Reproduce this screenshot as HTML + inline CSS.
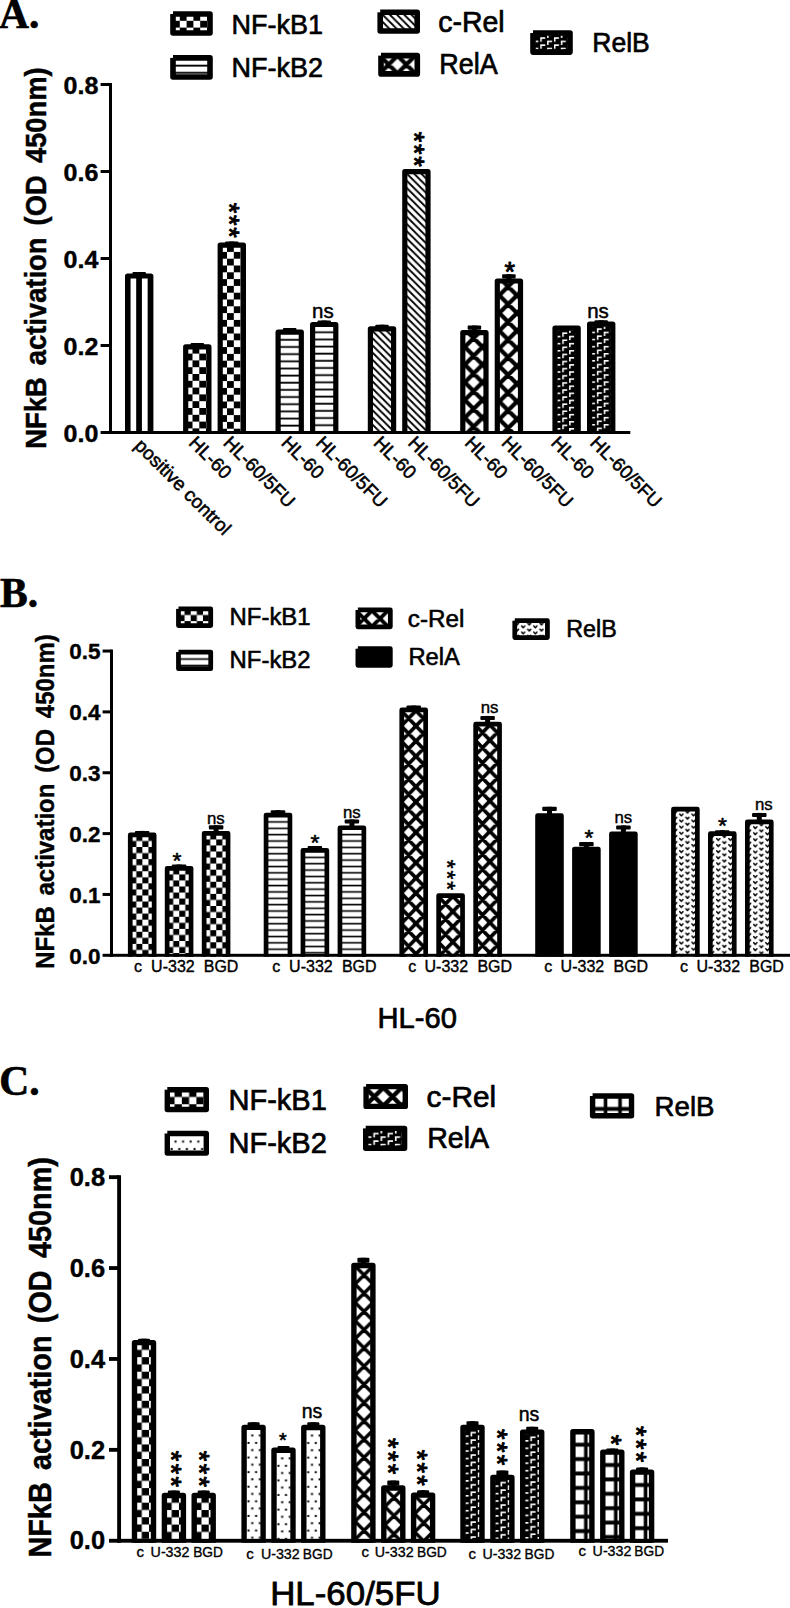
<!DOCTYPE html>
<html lang="en">
<head>
<meta charset="utf-8">
<title>NFkB activation in HL-60 and HL-60/5FU cells</title>
<style>
  html, body { margin: 0; padding: 0; background: #fff; }
  body { width: 790px; height: 1608px; overflow: hidden; }
  svg { display: block; }
  text { fill: #000; }
</style>
</head>
<body>
<svg width="790" height="1608" viewBox="0 0 790 1608">
<rect x="0" y="0" width="790" height="1608" fill="#fff"/>
<defs>
<pattern id="p-vert" patternUnits="userSpaceOnUse" x="0" y="0" width="11.45" height="10"><rect x="0" y="0" width="11.45" height="10" fill="#fff"/><rect x="-2.85" y="0" width="5.7" height="10" fill="#000"/><rect x="8.6" y="0" width="5.7" height="10" fill="#000"/></pattern>
<pattern id="p-check" patternUnits="userSpaceOnUse" x="0" y="0" width="13.6" height="13.6"><rect x="0" y="0" width="13.6" height="13.6" fill="#000"/><rect x="0" y="0" width="6.8" height="6.8" fill="#fff"/><rect x="6.8" y="6.8" width="6.8" height="6.8" fill="#fff"/></pattern>
<pattern id="p-horiz" patternUnits="userSpaceOnUse" x="0" y="0" width="10" height="7.15"><rect x="0" y="0" width="10" height="7.15" fill="#fff"/><rect x="0" y="-0.3" width="10" height="1.8" fill="#000"/><rect x="0" y="6.85" width="10" height="1.8" fill="#000"/></pattern>
<pattern id="p-diag" patternUnits="userSpaceOnUse" x="0" y="0" width="7.2" height="7.2"><rect x="0" y="0" width="7.2" height="7.2" fill="#fff"/><path d="M-7.20,-21.60 L14.40,0.00 M-7.20,-14.40 L14.40,7.20 M-7.20,-7.20 L14.40,14.40 M-7.20,0.00 L14.40,21.60 M-7.20,7.20 L14.40,28.80" stroke="#000" stroke-width="1.85" fill="none"/></pattern>
<pattern id="p-crossA" patternUnits="userSpaceOnUse" x="0" y="0" width="17.7" height="17.7"><rect x="0" y="0" width="17.7" height="17.7" fill="#fff"/><path d="M-17.70,-53.10 L35.40,0.00 M-17.70,0.00 L35.40,-53.10 M-17.70,-35.40 L35.40,17.70 M-17.70,17.70 L35.40,-35.40 M-17.70,-17.70 L35.40,35.40 M-17.70,35.40 L35.40,-17.70 M-17.70,0.00 L35.40,53.10 M-17.70,53.10 L35.40,0.00 M-17.70,17.70 L35.40,70.80 M-17.70,70.80 L35.40,17.70" stroke="#000" stroke-width="4.2" fill="none"/></pattern>
<pattern id="p-crossB" patternUnits="userSpaceOnUse" x="0" y="0" width="14.7" height="15.2"><rect x="0" y="0" width="14.7" height="15.2" fill="#fff"/><path d="M-14.70,-45.60 L29.40,0.00 M-14.70,0.00 L29.40,-45.60 M-14.70,-30.40 L29.40,15.20 M-14.70,15.20 L29.40,-30.40 M-14.70,-15.20 L29.40,30.40 M-14.70,30.40 L29.40,-15.20 M-14.70,0.00 L29.40,45.60 M-14.70,45.60 L29.40,0.00 M-14.70,15.20 L29.40,60.80 M-14.70,60.80 L29.40,15.20" stroke="#000" stroke-width="3.7" fill="none"/></pattern>
<pattern id="p-crossC" patternUnits="userSpaceOnUse" x="0" y="0" width="18.25" height="18.25"><rect x="0" y="0" width="18.25" height="18.25" fill="#fff"/><path d="M-18.25,-54.75 L36.50,0.00 M-18.25,0.00 L36.50,-54.75 M-18.25,-36.50 L36.50,18.25 M-18.25,18.25 L36.50,-36.50 M-18.25,-18.25 L36.50,36.50 M-18.25,36.50 L36.50,-18.25 M-18.25,0.00 L36.50,54.75 M-18.25,54.75 L36.50,0.00 M-18.25,18.25 L36.50,73.00 M-18.25,73.00 L36.50,18.25" stroke="#000" stroke-width="3.5" fill="none"/></pattern>
<pattern id="p-brick" patternUnits="userSpaceOnUse" x="0" y="0" width="13.7" height="7.1"><rect x="0" y="0" width="13.7" height="7.1" fill="#000"/><path d="M0.00,0.00 h5.0 v1.55 h-3.45 v2.9 h-1.55 z" fill="#fff"/><path d="M0.00,7.10 h5.0 v1.55 h-3.45 v2.9 h-1.55 z" fill="#fff"/><path d="M6.85,3.80 h5.0 v1.55 h-3.45 v2.9 h-1.55 z" fill="#fff"/><path d="M6.85,-3.30 h5.0 v1.55 h-3.45 v2.9 h-1.55 z" fill="#fff"/><path d="M13.70,0.00 h5.0 v1.55 h-3.45 v2.9 h-1.55 z" fill="#fff"/><path d="M13.70,7.10 h5.0 v1.55 h-3.45 v2.9 h-1.55 z" fill="#fff"/></pattern>
<pattern id="p-vee" patternUnits="userSpaceOnUse" x="0" y="0" width="12.2" height="6.1"><rect x="0" y="0" width="12.2" height="6.1" fill="#fff"/><path d="M0.30,2.10 L1.80,3.80 L3.30,2.10" stroke="#000" stroke-width="1.5" stroke-linecap="round" stroke-linejoin="round" fill="none"/><path d="M12.50,2.10 L14.00,3.80 L15.50,2.10" stroke="#000" stroke-width="1.5" stroke-linecap="round" stroke-linejoin="round" fill="none"/><path d="M6.40,5.00 L7.90,6.70 L9.40,5.00" stroke="#000" stroke-width="1.5" stroke-linecap="round" stroke-linejoin="round" fill="none"/><path d="M6.40,-1.10 L7.90,0.60 L9.40,-1.10" stroke="#000" stroke-width="1.5" stroke-linecap="round" stroke-linejoin="round" fill="none"/></pattern>
<pattern id="p-dots" patternUnits="userSpaceOnUse" x="0" y="0" width="7.6" height="14.6"><rect x="0" y="0" width="7.6" height="14.6" fill="#fff"/><rect x="-0.40" y="7.10" width="2.0" height="2.0" fill="#000"/><rect x="7.20" y="7.10" width="2.0" height="2.0" fill="#000"/><rect x="3.40" y="-0.10" width="2.0" height="2.0" fill="#000"/><rect x="3.40" y="14.50" width="2.0" height="2.0" fill="#000"/></pattern>
<pattern id="p-grid" patternUnits="userSpaceOnUse" x="0" y="0" width="14.5" height="14.4"><rect x="0" y="0" width="14.5" height="14.4" fill="#fff"/><rect x="0" y="10.95" width="14.5" height="3.9" fill="#000"/><rect x="0" y="-3.45" width="14.5" height="3.9" fill="#000"/><rect x="11.15" y="0" width="3.6" height="14.4" fill="#000"/><rect x="-3.35" y="0" width="3.6" height="14.4" fill="#000"/></pattern>
<pattern id="p-solid" patternUnits="userSpaceOnUse" x="0" y="0" width="10" height="10"><rect x="0" y="0" width="10" height="10" fill="#000"/></pattern>
</defs>

<text x="-1.00" y="27.60" font-size="41.5" font-family='"Liberation Serif", "Times New Roman", Times, serif' font-weight="bold" text-anchor="start" stroke="#000" stroke-width="0.66" stroke-linejoin="round" >A.</text>
<text x="46.50" y="448.80" font-size="30.3" font-family='"Liberation Sans", Arial, Helvetica, sans-serif' font-weight="bold" text-anchor="start" transform="rotate(-90 46.50 448.80)" textLength="381.50" lengthAdjust="spacingAndGlyphs" stroke="#000" stroke-width="0.48" stroke-linejoin="round" word-spacing="5">NFkB activation (OD 450nm)</text>
<text x="98.30" y="441.60" font-size="24.2" font-family='"Liberation Sans", Arial, Helvetica, sans-serif' font-weight="bold" text-anchor="end" textLength="34.80" lengthAdjust="spacingAndGlyphs" stroke="#000" stroke-width="0.39" stroke-linejoin="round" >0.0</text>
<text x="98.30" y="354.60" font-size="24.2" font-family='"Liberation Sans", Arial, Helvetica, sans-serif' font-weight="bold" text-anchor="end" textLength="34.80" lengthAdjust="spacingAndGlyphs" stroke="#000" stroke-width="0.39" stroke-linejoin="round" >0.2</text>
<text x="98.30" y="267.60" font-size="24.2" font-family='"Liberation Sans", Arial, Helvetica, sans-serif' font-weight="bold" text-anchor="end" textLength="34.80" lengthAdjust="spacingAndGlyphs" stroke="#000" stroke-width="0.39" stroke-linejoin="round" >0.4</text>
<text x="98.30" y="180.60" font-size="24.2" font-family='"Liberation Sans", Arial, Helvetica, sans-serif' font-weight="bold" text-anchor="end" textLength="34.80" lengthAdjust="spacingAndGlyphs" stroke="#000" stroke-width="0.39" stroke-linejoin="round" >0.6</text>
<text x="98.30" y="93.60" font-size="24.2" font-family='"Liberation Sans", Arial, Helvetica, sans-serif' font-weight="bold" text-anchor="end" textLength="34.80" lengthAdjust="spacingAndGlyphs" stroke="#000" stroke-width="0.39" stroke-linejoin="round" >0.8</text>
<clipPath id="clipA"><rect x="0" y="0" width="790" height="434.00"/></clipPath><g clip-path="url(#clipA)">
<g transform="translate(127.60,276.00) scale(1.0)"><rect x="-0.00" y="-0.00" width="23.20" height="160.50" fill="url(#p-vert)" stroke="#000" stroke-width="5.200" stroke-linejoin="round"/></g><rect x="132.45" y="272.00" width="13.5" height="3.40" rx="1" fill="#000"/><rect x="136.70" y="272.00" width="5" height="3.40" fill="#000"/>
<g transform="translate(185.70,346.80) scale(1.0)"><rect x="-0.00" y="-0.00" width="23.20" height="89.70" fill="url(#p-check)" stroke="#000" stroke-width="5.200" stroke-linejoin="round"/></g><rect x="190.55" y="343.00" width="13.5" height="3.20" rx="1" fill="#000"/><rect x="194.80" y="343.00" width="5" height="3.20" fill="#000"/>
<g transform="translate(220.20,245.10) scale(1.0)"><rect x="-0.00" y="-0.00" width="23.20" height="191.40" fill="url(#p-check)" stroke="#000" stroke-width="5.200" stroke-linejoin="round"/></g><rect x="225.05" y="241.50" width="13.5" height="3.00" rx="1" fill="#000"/><rect x="229.30" y="241.50" width="5" height="3.00" fill="#000"/>
<g transform="translate(278.10,332.10) scale(1.0)"><rect x="-0.00" y="-0.00" width="23.20" height="104.40" fill="url(#p-horiz)" stroke="#000" stroke-width="5.200" stroke-linejoin="round"/></g><rect x="282.95" y="328.10" width="13.5" height="3.40" rx="1" fill="#000"/><rect x="287.20" y="328.10" width="5" height="3.40" fill="#000"/>
<g transform="translate(312.60,324.50) scale(1.0)"><rect x="-0.00" y="-0.00" width="23.20" height="112.00" fill="url(#p-horiz)" stroke="#000" stroke-width="5.200" stroke-linejoin="round"/></g><rect x="317.45" y="320.50" width="13.5" height="3.40" rx="1" fill="#000"/><rect x="321.70" y="320.50" width="5" height="3.40" fill="#000"/>
<g transform="translate(370.40,328.90) scale(1.0)"><rect x="-0.00" y="-0.00" width="23.20" height="107.60" fill="url(#p-diag)" stroke="#000" stroke-width="5.200" stroke-linejoin="round"/></g><rect x="375.25" y="324.70" width="13.5" height="3.60" rx="1" fill="#000"/><rect x="379.50" y="324.70" width="5" height="3.60" fill="#000"/>
<g transform="translate(404.80,171.60) scale(1.0)"><rect x="-0.00" y="-0.00" width="23.20" height="264.90" fill="url(#p-diag)" stroke="#000" stroke-width="5.200" stroke-linejoin="round"/></g>
<g transform="translate(464.80,329.25) scale(1.0)"><rect x="-2.00" y="3.35" width="23.20" height="103.90" fill="url(#p-crossA)" stroke="#000" stroke-width="5.200" stroke-linejoin="round"/></g><rect x="467.65" y="325.60" width="13.5" height="4.20" rx="1" fill="#000"/><rect x="471.90" y="325.60" width="5" height="6.40" fill="#000"/>
<g transform="translate(499.30,277.65) scale(1.0)"><rect x="-2.00" y="3.35" width="23.20" height="155.50" fill="url(#p-crossA)" stroke="#000" stroke-width="5.200" stroke-linejoin="round"/></g><rect x="502.15" y="274.20" width="13.5" height="4.20" rx="1" fill="#000"/><rect x="506.40" y="274.20" width="5" height="6.20" fill="#000"/>
<g transform="translate(555.40,328.64) scale(1.0)"><rect x="-0.40" y="-0.44" width="23.20" height="108.30" fill="url(#p-brick)" stroke="#000" stroke-width="5.200" stroke-linejoin="round"/></g>
<g transform="translate(590.00,324.54) scale(1.0)"><rect x="-0.40" y="-0.44" width="23.20" height="112.40" fill="url(#p-brick)" stroke="#000" stroke-width="5.200" stroke-linejoin="round"/></g><rect x="594.45" y="320.30" width="13.5" height="3.20" rx="1" fill="#000"/><rect x="598.70" y="320.30" width="5" height="3.20" fill="#000"/>
</g>
<rect x="109.00" y="83.00" width="3.0" height="351.00" fill="#000"/>
<rect x="109.00" y="431.00" width="521.30" height="3.0" fill="#000"/>
<rect x="100.60" y="431.00" width="9.9" height="3.0" fill="#000"/>
<rect x="100.60" y="344.00" width="9.9" height="3.0" fill="#000"/>
<rect x="100.60" y="257.00" width="9.9" height="3.0" fill="#000"/>
<rect x="100.60" y="170.00" width="9.9" height="3.0" fill="#000"/>
<rect x="100.60" y="83.00" width="9.9" height="3.0" fill="#000"/>
<text font-size="27.00" font-family='"Liberation Sans", Arial, Helvetica, sans-serif' text-anchor="middle" stroke="#000" stroke-width="0.97" stroke-linejoin="round" transform="translate(233.70,232.50) rotate(90)" x="0" y="14.04">*</text>
<text font-size="27.00" font-family='"Liberation Sans", Arial, Helvetica, sans-serif' text-anchor="middle" stroke="#000" stroke-width="0.97" stroke-linejoin="round" transform="translate(233.70,220.25) rotate(90)" x="0" y="14.04">*</text>
<text font-size="27.00" font-family='"Liberation Sans", Arial, Helvetica, sans-serif' text-anchor="middle" stroke="#000" stroke-width="0.97" stroke-linejoin="round" transform="translate(233.70,208.00) rotate(90)" x="0" y="14.04">*</text>
<text font-size="27.00" font-family='"Liberation Sans", Arial, Helvetica, sans-serif' text-anchor="middle" stroke="#000" stroke-width="0.97" stroke-linejoin="round" transform="translate(418.75,161.40) rotate(90)" x="0" y="14.04">*</text>
<text font-size="27.00" font-family='"Liberation Sans", Arial, Helvetica, sans-serif' text-anchor="middle" stroke="#000" stroke-width="0.97" stroke-linejoin="round" transform="translate(418.75,149.15) rotate(90)" x="0" y="14.04">*</text>
<text font-size="27.00" font-family='"Liberation Sans", Arial, Helvetica, sans-serif' text-anchor="middle" stroke="#000" stroke-width="0.97" stroke-linejoin="round" transform="translate(418.75,136.90) rotate(90)" x="0" y="14.04">*</text>
<text font-size="27.00" font-family='"Liberation Sans", Arial, Helvetica, sans-serif' text-anchor="middle" stroke="#000" stroke-width="0.97" stroke-linejoin="round" x="509.85" y="280.84">*</text>
<text x="322.90" y="318.00" font-size="20.5" font-family='"Liberation Sans", Arial, Helvetica, sans-serif' font-weight="normal" text-anchor="middle" stroke="#000" stroke-width="0.49" stroke-linejoin="round" >ns</text>
<text x="598.00" y="318.30" font-size="20.5" font-family='"Liberation Sans", Arial, Helvetica, sans-serif' font-weight="normal" text-anchor="middle" stroke="#000" stroke-width="0.49" stroke-linejoin="round" >ns</text>
<text x="133.50" y="446.70" font-size="19" font-family='"Liberation Sans", Arial, Helvetica, sans-serif' font-weight="normal" text-anchor="start" transform="rotate(45 133.50 446.70)" stroke="#000" stroke-width="0.55" stroke-linejoin="round" >positive control</text>
<text x="187.80" y="443.90" font-size="18.8" font-family='"Liberation Sans", Arial, Helvetica, sans-serif' font-weight="normal" text-anchor="start" transform="rotate(45 187.80 443.90)" stroke="#000" stroke-width="0.55" stroke-linejoin="round" >HL-60</text>
<text x="222.30" y="443.90" font-size="18.8" font-family='"Liberation Sans", Arial, Helvetica, sans-serif' font-weight="normal" text-anchor="start" transform="rotate(45 222.30 443.90)" stroke="#000" stroke-width="0.55" stroke-linejoin="round" >HL-60/5FU</text>
<text x="280.20" y="443.90" font-size="18.8" font-family='"Liberation Sans", Arial, Helvetica, sans-serif' font-weight="normal" text-anchor="start" transform="rotate(45 280.20 443.90)" stroke="#000" stroke-width="0.55" stroke-linejoin="round" >HL-60</text>
<text x="314.70" y="443.90" font-size="18.8" font-family='"Liberation Sans", Arial, Helvetica, sans-serif' font-weight="normal" text-anchor="start" transform="rotate(45 314.70 443.90)" stroke="#000" stroke-width="0.55" stroke-linejoin="round" >HL-60/5FU</text>
<text x="372.50" y="443.90" font-size="18.8" font-family='"Liberation Sans", Arial, Helvetica, sans-serif' font-weight="normal" text-anchor="start" transform="rotate(45 372.50 443.90)" stroke="#000" stroke-width="0.55" stroke-linejoin="round" >HL-60</text>
<text x="406.90" y="443.90" font-size="18.8" font-family='"Liberation Sans", Arial, Helvetica, sans-serif' font-weight="normal" text-anchor="start" transform="rotate(45 406.90 443.90)" stroke="#000" stroke-width="0.55" stroke-linejoin="round" >HL-60/5FU</text>
<text x="463.70" y="443.90" font-size="18.8" font-family='"Liberation Sans", Arial, Helvetica, sans-serif' font-weight="normal" text-anchor="start" transform="rotate(45 463.70 443.90)" stroke="#000" stroke-width="0.55" stroke-linejoin="round" >HL-60</text>
<text x="500.40" y="443.90" font-size="18.8" font-family='"Liberation Sans", Arial, Helvetica, sans-serif' font-weight="normal" text-anchor="start" transform="rotate(45 500.40 443.90)" stroke="#000" stroke-width="0.55" stroke-linejoin="round" >HL-60/5FU</text>
<text x="550.10" y="443.90" font-size="18.8" font-family='"Liberation Sans", Arial, Helvetica, sans-serif' font-weight="normal" text-anchor="start" transform="rotate(45 550.10 443.90)" stroke="#000" stroke-width="0.55" stroke-linejoin="round" >HL-60</text>
<text x="589.10" y="443.90" font-size="18.8" font-family='"Liberation Sans", Arial, Helvetica, sans-serif' font-weight="normal" text-anchor="start" transform="rotate(45 589.10 443.90)" stroke="#000" stroke-width="0.55" stroke-linejoin="round" >HL-60/5FU</text>
<g transform="translate(173.00,14.00) scale(1.0)"><rect x="-0.00" y="-0.00" width="37.00" height="19.00" fill="url(#p-check)" stroke="#000" stroke-width="5.600" stroke-linejoin="round"/></g>
<rect x="169.70" y="10.70" width="3.30" height="3.30" fill="#fff"/>
<text x="231.40" y="33.50" font-size="28" font-family='"Liberation Sans", Arial, Helvetica, sans-serif' font-weight="normal" text-anchor="start" textLength="91.60" lengthAdjust="spacingAndGlyphs" stroke="#000" stroke-width="0.67" stroke-linejoin="round" >NF-kB1</text>
<g transform="translate(173.00,57.90) scale(1.0)"><rect x="-0.00" y="-0.00" width="37.00" height="19.10" fill="url(#p-horiz)" stroke="#000" stroke-width="5.600" stroke-linejoin="round"/></g>
<rect x="169.70" y="54.60" width="3.30" height="3.30" fill="#fff"/>
<text x="231.40" y="77.30" font-size="28" font-family='"Liberation Sans", Arial, Helvetica, sans-serif' font-weight="normal" text-anchor="start" textLength="91.60" lengthAdjust="spacingAndGlyphs" stroke="#000" stroke-width="0.67" stroke-linejoin="round" >NF-kB2</text>
<g transform="translate(380.20,12.30) scale(1.0)"><rect x="-0.00" y="-0.00" width="37.00" height="18.70" fill="url(#p-diag)" stroke="#000" stroke-width="5.600" stroke-linejoin="round"/></g>
<rect x="376.90" y="9.00" width="3.30" height="3.30" fill="#fff"/>
<text x="438.20" y="31.50" font-size="28.8" font-family='"Liberation Sans", Arial, Helvetica, sans-serif' font-weight="normal" text-anchor="start" textLength="66.50" lengthAdjust="spacingAndGlyphs" stroke="#000" stroke-width="0.69" stroke-linejoin="round" >c-Rel</text>
<g transform="translate(379.80,55.70) scale(1.0)"><rect x="1.20" y="-0.10" width="36.30" height="18.30" fill="url(#p-crossA)" stroke="#000" stroke-width="5.600" stroke-linejoin="round"/></g>
<rect x="377.70" y="52.30" width="3.30" height="3.30" fill="#fff"/>
<text x="439.30" y="74.30" font-size="28.8" font-family='"Liberation Sans", Arial, Helvetica, sans-serif' font-weight="normal" text-anchor="start" textLength="58.50" lengthAdjust="spacingAndGlyphs" stroke="#000" stroke-width="0.69" stroke-linejoin="round" >RelA</text>
<g transform="translate(533.40,33.49) scale(1.0)"><rect x="-0.40" y="-0.44" width="37.00" height="19.05" fill="url(#p-brick)" stroke="#000" stroke-width="5.600" stroke-linejoin="round"/></g>
<rect x="529.70" y="29.75" width="3.30" height="3.30" fill="#fff"/>
<text x="592.30" y="51.50" font-size="28" font-family='"Liberation Sans", Arial, Helvetica, sans-serif' font-weight="normal" text-anchor="start" textLength="57.50" lengthAdjust="spacingAndGlyphs" stroke="#000" stroke-width="0.67" stroke-linejoin="round" >RelB</text>
<text x="0.00" y="606.60" font-size="41.5" font-family='"Liberation Serif", "Times New Roman", Times, serif' font-weight="bold" text-anchor="start" stroke="#000" stroke-width="0.66" stroke-linejoin="round" >B.</text>
<text x="54.20" y="968.80" font-size="25.7" font-family='"Liberation Sans", Arial, Helvetica, sans-serif' font-weight="bold" text-anchor="start" transform="rotate(-90 54.20 968.80)" textLength="334.50" lengthAdjust="spacingAndGlyphs" stroke="#000" stroke-width="0.41" stroke-linejoin="round" word-spacing="4.5">NFkB activation (OD 450nm)</text>
<text x="100.50" y="963.70" font-size="22.5" font-family='"Liberation Sans", Arial, Helvetica, sans-serif' font-weight="bold" text-anchor="end" stroke="#000" stroke-width="0.36" stroke-linejoin="round" >0.0</text>
<text x="100.50" y="902.85" font-size="22.5" font-family='"Liberation Sans", Arial, Helvetica, sans-serif' font-weight="bold" text-anchor="end" stroke="#000" stroke-width="0.36" stroke-linejoin="round" >0.1</text>
<text x="100.50" y="842.00" font-size="22.5" font-family='"Liberation Sans", Arial, Helvetica, sans-serif' font-weight="bold" text-anchor="end" stroke="#000" stroke-width="0.36" stroke-linejoin="round" >0.2</text>
<text x="100.50" y="781.15" font-size="22.5" font-family='"Liberation Sans", Arial, Helvetica, sans-serif' font-weight="bold" text-anchor="end" stroke="#000" stroke-width="0.36" stroke-linejoin="round" >0.3</text>
<text x="100.50" y="720.30" font-size="22.5" font-family='"Liberation Sans", Arial, Helvetica, sans-serif' font-weight="bold" text-anchor="end" stroke="#000" stroke-width="0.36" stroke-linejoin="round" >0.4</text>
<text x="100.50" y="659.45" font-size="22.5" font-family='"Liberation Sans", Arial, Helvetica, sans-serif' font-weight="bold" text-anchor="end" stroke="#000" stroke-width="0.36" stroke-linejoin="round" >0.5</text>
<clipPath id="clipB"><rect x="0" y="0" width="790" height="956.80"/></clipPath><g clip-path="url(#clipB)">
<g transform="translate(130.25,834.95) scale(0.89)"><rect x="-0.00" y="-0.00" width="26.85" height="139.72" fill="url(#p-check)" stroke="#000" stroke-width="5.281" stroke-linejoin="round"/></g><rect x="134.95" y="830.90" width="14.5" height="3.70" rx="1" fill="#000"/><rect x="139.70" y="830.90" width="5" height="3.70" fill="#000"/>
<g transform="translate(167.15,868.35) scale(0.89)"><rect x="-0.00" y="-0.00" width="26.85" height="102.19" fill="url(#p-check)" stroke="#000" stroke-width="5.281" stroke-linejoin="round"/></g><rect x="171.85" y="864.50" width="14.5" height="3.50" rx="1" fill="#000"/><rect x="176.60" y="864.50" width="5" height="3.50" fill="#000"/>
<g transform="translate(204.15,833.35) scale(0.89)"><rect x="-0.00" y="-0.00" width="26.85" height="141.52" fill="url(#p-check)" stroke="#000" stroke-width="5.281" stroke-linejoin="round"/></g><rect x="208.85" y="825.30" width="14.5" height="4.20" rx="1" fill="#000"/><rect x="213.60" y="825.30" width="5" height="7.70" fill="#000"/>
<g transform="translate(266.05,815.05) scale(0.89)"><rect x="-0.00" y="-0.00" width="26.85" height="162.08" fill="url(#p-horiz)" stroke="#000" stroke-width="5.281" stroke-linejoin="round"/></g><rect x="270.75" y="810.20" width="14.5" height="4.20" rx="1" fill="#000"/><rect x="275.50" y="810.20" width="5" height="4.50" fill="#000"/>
<g transform="translate(302.95,850.45) scale(0.89)"><rect x="-0.00" y="-0.00" width="26.85" height="122.30" fill="url(#p-horiz)" stroke="#000" stroke-width="5.281" stroke-linejoin="round"/></g><rect x="307.65" y="846.10" width="14.5" height="4.00" rx="1" fill="#000"/><rect x="312.40" y="846.10" width="5" height="4.00" fill="#000"/>
<g transform="translate(339.95,827.75) scale(0.89)"><rect x="-0.00" y="-0.00" width="26.85" height="147.81" fill="url(#p-horiz)" stroke="#000" stroke-width="5.281" stroke-linejoin="round"/></g><rect x="344.65" y="819.40" width="14.5" height="4.20" rx="1" fill="#000"/><rect x="349.40" y="819.40" width="5" height="8.00" fill="#000"/>
<g transform="translate(401.25,710.75) scale(1)"><rect x="0.50" y="-0.80" width="23.90" height="249.35" fill="url(#p-crossB)" stroke="#000" stroke-width="4.700" stroke-linejoin="round"/></g><rect x="406.45" y="705.60" width="14.5" height="4.00" rx="1" fill="#000"/><rect x="411.20" y="705.60" width="5" height="4.00" fill="#000"/>
<g transform="translate(438.15,896.35) scale(1)"><rect x="0.50" y="-0.80" width="23.90" height="63.75" fill="url(#p-crossB)" stroke="#000" stroke-width="4.700" stroke-linejoin="round"/></g>
<g transform="translate(475.15,724.95) scale(1)"><rect x="0.50" y="-0.80" width="23.90" height="235.15" fill="url(#p-crossB)" stroke="#000" stroke-width="4.700" stroke-linejoin="round"/></g><rect x="480.35" y="715.90" width="14.5" height="4.20" rx="1" fill="#000"/><rect x="485.10" y="715.90" width="5" height="7.90" fill="#000"/>
<g transform="translate(537.55,815.65) scale(1)"><rect x="0.00" y="0.00" width="23.90" height="143.65" fill="url(#p-solid)" stroke="#000" stroke-width="4.700" stroke-linejoin="round"/></g><rect x="542.25" y="806.80" width="14.5" height="4.20" rx="1" fill="#000"/><rect x="547.00" y="806.80" width="5" height="8.50" fill="#000"/>
<g transform="translate(574.45,849.05) scale(1)"><rect x="0.00" y="0.00" width="23.90" height="110.25" fill="url(#p-solid)" stroke="#000" stroke-width="4.700" stroke-linejoin="round"/></g><rect x="579.15" y="842.00" width="14.5" height="4.20" rx="1" fill="#000"/><rect x="583.90" y="842.00" width="5" height="6.70" fill="#000"/>
<g transform="translate(611.45,833.85) scale(1)"><rect x="0.00" y="0.00" width="23.90" height="125.45" fill="url(#p-solid)" stroke="#000" stroke-width="4.700" stroke-linejoin="round"/></g><rect x="616.15" y="825.40" width="14.5" height="4.20" rx="1" fill="#000"/><rect x="620.90" y="825.40" width="5" height="8.10" fill="#000"/>
<g transform="translate(673.45,809.15) scale(1)"><rect x="0.00" y="0.00" width="23.90" height="150.15" fill="url(#p-vee)" stroke="#000" stroke-width="4.700" stroke-linejoin="round"/></g>
<g transform="translate(710.35,833.65) scale(1)"><rect x="0.00" y="0.00" width="23.90" height="125.65" fill="url(#p-vee)" stroke="#000" stroke-width="4.700" stroke-linejoin="round"/></g><rect x="715.05" y="830.20" width="14.5" height="3.10" rx="1" fill="#000"/><rect x="719.80" y="830.20" width="5" height="3.10" fill="#000"/>
<g transform="translate(747.35,821.85) scale(1)"><rect x="0.00" y="0.00" width="23.90" height="137.45" fill="url(#p-vee)" stroke="#000" stroke-width="4.700" stroke-linejoin="round"/></g><rect x="752.05" y="812.90" width="14.5" height="4.20" rx="1" fill="#000"/><rect x="756.80" y="812.90" width="5" height="8.60" fill="#000"/>
</g>
<rect x="110.00" y="649.55" width="3.0" height="307.25" fill="#000"/>
<rect x="110.00" y="953.80" width="682.00" height="3.0" fill="#000"/>
<rect x="102.60" y="953.80" width="8.9" height="3.0" fill="#000"/>
<rect x="102.60" y="892.95" width="8.9" height="3.0" fill="#000"/>
<rect x="102.60" y="832.10" width="8.9" height="3.0" fill="#000"/>
<rect x="102.60" y="771.25" width="8.9" height="3.0" fill="#000"/>
<rect x="102.60" y="710.40" width="8.9" height="3.0" fill="#000"/>
<rect x="102.60" y="649.55" width="8.9" height="3.0" fill="#000"/>
<text x="134.00" y="972.40" font-size="16" font-family='"Liberation Sans", Arial, Helvetica, sans-serif' font-weight="normal" text-anchor="start" stroke="#000" stroke-width="0.38" stroke-linejoin="round" >c</text>
<text x="151.10" y="972.40" font-size="16" font-family='"Liberation Sans", Arial, Helvetica, sans-serif' font-weight="normal" text-anchor="start" textLength="43.60" lengthAdjust="spacingAndGlyphs" stroke="#000" stroke-width="0.38" stroke-linejoin="round" >U-332</text>
<text x="203.80" y="972.40" font-size="16" font-family='"Liberation Sans", Arial, Helvetica, sans-serif' font-weight="normal" text-anchor="start" textLength="34.60" lengthAdjust="spacingAndGlyphs" stroke="#000" stroke-width="0.38" stroke-linejoin="round" >BGD</text>
<text x="272.20" y="972.20" font-size="16" font-family='"Liberation Sans", Arial, Helvetica, sans-serif' font-weight="normal" text-anchor="start" stroke="#000" stroke-width="0.38" stroke-linejoin="round" >c</text>
<text x="289.10" y="972.20" font-size="16" font-family='"Liberation Sans", Arial, Helvetica, sans-serif' font-weight="normal" text-anchor="start" textLength="43.60" lengthAdjust="spacingAndGlyphs" stroke="#000" stroke-width="0.38" stroke-linejoin="round" >U-332</text>
<text x="341.90" y="972.20" font-size="16" font-family='"Liberation Sans", Arial, Helvetica, sans-serif' font-weight="normal" text-anchor="start" textLength="34.60" lengthAdjust="spacingAndGlyphs" stroke="#000" stroke-width="0.38" stroke-linejoin="round" >BGD</text>
<text x="408.20" y="972.20" font-size="16" font-family='"Liberation Sans", Arial, Helvetica, sans-serif' font-weight="normal" text-anchor="start" stroke="#000" stroke-width="0.38" stroke-linejoin="round" >c</text>
<text x="424.50" y="972.20" font-size="16" font-family='"Liberation Sans", Arial, Helvetica, sans-serif' font-weight="normal" text-anchor="start" textLength="43.60" lengthAdjust="spacingAndGlyphs" stroke="#000" stroke-width="0.38" stroke-linejoin="round" >U-332</text>
<text x="477.40" y="972.20" font-size="16" font-family='"Liberation Sans", Arial, Helvetica, sans-serif' font-weight="normal" text-anchor="start" textLength="34.60" lengthAdjust="spacingAndGlyphs" stroke="#000" stroke-width="0.38" stroke-linejoin="round" >BGD</text>
<text x="544.20" y="972.20" font-size="16" font-family='"Liberation Sans", Arial, Helvetica, sans-serif' font-weight="normal" text-anchor="start" stroke="#000" stroke-width="0.38" stroke-linejoin="round" >c</text>
<text x="560.60" y="972.20" font-size="16" font-family='"Liberation Sans", Arial, Helvetica, sans-serif' font-weight="normal" text-anchor="start" textLength="43.60" lengthAdjust="spacingAndGlyphs" stroke="#000" stroke-width="0.38" stroke-linejoin="round" >U-332</text>
<text x="613.50" y="972.20" font-size="16" font-family='"Liberation Sans", Arial, Helvetica, sans-serif' font-weight="normal" text-anchor="start" textLength="34.60" lengthAdjust="spacingAndGlyphs" stroke="#000" stroke-width="0.38" stroke-linejoin="round" >BGD</text>
<text x="680.00" y="972.00" font-size="16" font-family='"Liberation Sans", Arial, Helvetica, sans-serif' font-weight="normal" text-anchor="start" stroke="#000" stroke-width="0.38" stroke-linejoin="round" >c</text>
<text x="696.50" y="972.00" font-size="16" font-family='"Liberation Sans", Arial, Helvetica, sans-serif' font-weight="normal" text-anchor="start" textLength="43.60" lengthAdjust="spacingAndGlyphs" stroke="#000" stroke-width="0.38" stroke-linejoin="round" >U-332</text>
<text x="749.30" y="972.00" font-size="16" font-family='"Liberation Sans", Arial, Helvetica, sans-serif' font-weight="normal" text-anchor="start" textLength="34.60" lengthAdjust="spacingAndGlyphs" stroke="#000" stroke-width="0.38" stroke-linejoin="round" >BGD</text>
<text x="377.50" y="1027.70" font-size="29" font-family='"Liberation Sans", Arial, Helvetica, sans-serif' font-weight="normal" text-anchor="start" textLength="79.50" lengthAdjust="spacingAndGlyphs" stroke="#000" stroke-width="0.70" stroke-linejoin="round" >HL-60</text>
<text font-size="22.95" font-family='"Liberation Sans", Arial, Helvetica, sans-serif' text-anchor="middle" stroke="#000" stroke-width="0.60" stroke-linejoin="round" x="176.85" y="867.83">*</text>
<text x="215.90" y="824.05" font-size="16.8" font-family='"Liberation Sans", Arial, Helvetica, sans-serif' font-weight="normal" text-anchor="middle" stroke="#000" stroke-width="0.40" stroke-linejoin="round" >ns</text>
<text font-size="22.95" font-family='"Liberation Sans", Arial, Helvetica, sans-serif' text-anchor="middle" stroke="#000" stroke-width="0.60" stroke-linejoin="round" x="315.05" y="849.93">*</text>
<text x="351.90" y="817.90" font-size="16.8" font-family='"Liberation Sans", Arial, Helvetica, sans-serif' font-weight="normal" text-anchor="middle" stroke="#000" stroke-width="0.40" stroke-linejoin="round" >ns</text>
<text font-size="22.95" font-family='"Liberation Sans", Arial, Helvetica, sans-serif' text-anchor="middle" stroke="#000" stroke-width="0.60" stroke-linejoin="round" transform="translate(452.20,885.60) rotate(90)" x="0" y="11.93">*</text>
<text font-size="22.95" font-family='"Liberation Sans", Arial, Helvetica, sans-serif' text-anchor="middle" stroke="#000" stroke-width="0.60" stroke-linejoin="round" transform="translate(452.20,874.95) rotate(90)" x="0" y="11.93">*</text>
<text font-size="22.95" font-family='"Liberation Sans", Arial, Helvetica, sans-serif' text-anchor="middle" stroke="#000" stroke-width="0.60" stroke-linejoin="round" transform="translate(452.20,864.30) rotate(90)" x="0" y="11.93">*</text>
<text x="489.50" y="712.70" font-size="16.8" font-family='"Liberation Sans", Arial, Helvetica, sans-serif' font-weight="normal" text-anchor="middle" stroke="#000" stroke-width="0.40" stroke-linejoin="round" >ns</text>
<text font-size="22.95" font-family='"Liberation Sans", Arial, Helvetica, sans-serif' text-anchor="middle" stroke="#000" stroke-width="0.60" stroke-linejoin="round" x="588.95" y="844.83">*</text>
<text x="623.40" y="823.40" font-size="16.8" font-family='"Liberation Sans", Arial, Helvetica, sans-serif' font-weight="normal" text-anchor="middle" stroke="#000" stroke-width="0.40" stroke-linejoin="round" >ns</text>
<text font-size="22.95" font-family='"Liberation Sans", Arial, Helvetica, sans-serif' text-anchor="middle" stroke="#000" stroke-width="0.60" stroke-linejoin="round" x="722.35" y="833.43">*</text>
<text x="763.75" y="809.60" font-size="16.8" font-family='"Liberation Sans", Arial, Helvetica, sans-serif' font-weight="normal" text-anchor="middle" stroke="#000" stroke-width="0.40" stroke-linejoin="round" >ns</text>
<g transform="translate(178.47,608.88) scale(0.9)"><rect x="-0.00" y="-0.00" width="35.83" height="18.50" fill="url(#p-check)" stroke="#000" stroke-width="5.278" stroke-linejoin="round"/></g>
<rect x="175.60" y="606.00" width="2.88" height="2.88" fill="#fff"/>
<text x="229.60" y="625.40" font-size="23.3" font-family='"Liberation Sans", Arial, Helvetica, sans-serif' font-weight="normal" text-anchor="start" textLength="81.00" lengthAdjust="spacingAndGlyphs" stroke="#000" stroke-width="0.56" stroke-linejoin="round" >NF-kB1</text>
<g transform="translate(178.47,652.08) scale(0.9)"><rect x="-0.00" y="-0.00" width="35.83" height="18.39" fill="url(#p-horiz)" stroke="#000" stroke-width="5.278" stroke-linejoin="round"/></g>
<rect x="175.60" y="649.20" width="2.88" height="2.88" fill="#fff"/>
<text x="229.60" y="668.00" font-size="23.3" font-family='"Liberation Sans", Arial, Helvetica, sans-serif' font-weight="normal" text-anchor="start" textLength="81.00" lengthAdjust="spacingAndGlyphs" stroke="#000" stroke-width="0.56" stroke-linejoin="round" >NF-kB2</text>
<g transform="translate(356.03,610.61) scale(0.9)"><rect x="2.05" y="-0.70" width="36.06" height="18.72" fill="url(#p-crossA)" stroke="#000" stroke-width="5.278" stroke-linejoin="round"/></g>
<rect x="355.00" y="607.10" width="2.88" height="2.88" fill="#fff"/>
<text x="407.80" y="626.90" font-size="23.3" font-family='"Liberation Sans", Arial, Helvetica, sans-serif' font-weight="normal" text-anchor="start" textLength="56.50" lengthAdjust="spacingAndGlyphs" stroke="#000" stroke-width="0.56" stroke-linejoin="round" >c-Rel</text>
<g transform="translate(357.88,648.67) scale(1.0)"><rect x="-0.00" y="-0.00" width="32.45" height="16.65" fill="url(#p-solid)" stroke="#000" stroke-width="4.750" stroke-linejoin="round"/></g>
<rect x="355.00" y="645.80" width="2.88" height="2.88" fill="#fff"/>
<text x="408.40" y="664.90" font-size="23.3" font-family='"Liberation Sans", Arial, Helvetica, sans-serif' font-weight="normal" text-anchor="start" textLength="51.50" lengthAdjust="spacingAndGlyphs" stroke="#000" stroke-width="0.56" stroke-linejoin="round" >RelA</text>
<g transform="translate(515.27,621.07) scale(1.0)"><rect x="-0.50" y="-0.40" width="32.65" height="16.85" fill="url(#p-vee)" stroke="#000" stroke-width="4.750" stroke-linejoin="round"/></g>
<rect x="511.90" y="617.80" width="2.88" height="2.88" fill="#fff"/>
<text x="566.30" y="636.60" font-size="23.3" font-family='"Liberation Sans", Arial, Helvetica, sans-serif' font-weight="normal" text-anchor="start" textLength="50.50" lengthAdjust="spacingAndGlyphs" stroke="#000" stroke-width="0.56" stroke-linejoin="round" >RelB</text>
<text x="-0.70" y="1095.40" font-size="41.5" font-family='"Liberation Serif", "Times New Roman", Times, serif' font-weight="bold" text-anchor="start" stroke="#000" stroke-width="0.66" stroke-linejoin="round" >C.</text>
<text x="50.90" y="1557.60" font-size="30.9" font-family='"Liberation Sans", Arial, Helvetica, sans-serif' font-weight="bold" text-anchor="start" transform="rotate(-90 50.90 1557.60)" textLength="400.50" lengthAdjust="spacingAndGlyphs" stroke="#000" stroke-width="0.49" stroke-linejoin="round" word-spacing="4.5">NFkB activation (OD 450nm)</text>
<text x="105.10" y="1549.45" font-size="25.5" font-family='"Liberation Sans", Arial, Helvetica, sans-serif' font-weight="bold" text-anchor="end" stroke="#000" stroke-width="0.41" stroke-linejoin="round" >0.0</text>
<text x="105.10" y="1458.55" font-size="25.5" font-family='"Liberation Sans", Arial, Helvetica, sans-serif' font-weight="bold" text-anchor="end" stroke="#000" stroke-width="0.41" stroke-linejoin="round" >0.2</text>
<text x="105.10" y="1367.65" font-size="25.5" font-family='"Liberation Sans", Arial, Helvetica, sans-serif' font-weight="bold" text-anchor="end" stroke="#000" stroke-width="0.41" stroke-linejoin="round" >0.4</text>
<text x="105.10" y="1276.75" font-size="25.5" font-family='"Liberation Sans", Arial, Helvetica, sans-serif' font-weight="bold" text-anchor="end" stroke="#000" stroke-width="0.41" stroke-linejoin="round" >0.6</text>
<text x="105.10" y="1185.85" font-size="25.5" font-family='"Liberation Sans", Arial, Helvetica, sans-serif' font-weight="bold" text-anchor="end" stroke="#000" stroke-width="0.41" stroke-linejoin="round" >0.8</text>
<clipPath id="clipC"><rect x="0" y="0" width="790" height="1542.65"/></clipPath><g clip-path="url(#clipC)">
<g transform="translate(134.50,1342.60) scale(1.07)"><rect x="-0.00" y="-0.00" width="17.76" height="188.93" fill="url(#p-check)" stroke="#000" stroke-width="5.047" stroke-linejoin="round"/></g><rect x="138.00" y="1338.70" width="12.0" height="3.20" rx="1" fill="#000"/><rect x="141.50" y="1338.70" width="5" height="3.20" fill="#000"/>
<g transform="translate(164.40,1495.50) scale(1.07)"><rect x="-0.00" y="-0.00" width="17.76" height="46.03" fill="url(#p-check)" stroke="#000" stroke-width="5.047" stroke-linejoin="round"/></g><rect x="167.90" y="1490.60" width="12.0" height="4.20" rx="1" fill="#000"/><rect x="171.40" y="1490.60" width="5" height="4.20" fill="#000"/>
<g transform="translate(194.20,1495.50) scale(1.07)"><rect x="-0.00" y="-0.00" width="17.76" height="46.03" fill="url(#p-check)" stroke="#000" stroke-width="5.047" stroke-linejoin="round"/></g><rect x="197.70" y="1490.60" width="12.0" height="4.20" rx="1" fill="#000"/><rect x="201.20" y="1490.60" width="5" height="4.20" fill="#000"/>
<g transform="translate(244.10,1427.40) scale(1)"><rect x="0.00" y="0.00" width="19.00" height="117.35" fill="url(#p-dots)" stroke="#000" stroke-width="5.400" stroke-linejoin="round"/></g><rect x="247.60" y="1422.30" width="12.0" height="4.40" rx="1" fill="#000"/><rect x="251.10" y="1422.30" width="5" height="4.40" fill="#000"/>
<g transform="translate(274.00,1450.30) scale(1)"><rect x="0.00" y="0.00" width="19.00" height="94.45" fill="url(#p-dots)" stroke="#000" stroke-width="5.400" stroke-linejoin="round"/></g><rect x="277.50" y="1446.10" width="12.0" height="3.50" rx="1" fill="#000"/><rect x="281.00" y="1446.10" width="5" height="3.50" fill="#000"/>
<g transform="translate(303.80,1427.50) scale(1)"><rect x="0.00" y="0.00" width="19.00" height="117.25" fill="url(#p-dots)" stroke="#000" stroke-width="5.400" stroke-linejoin="round"/></g><rect x="307.30" y="1422.30" width="12.0" height="4.50" rx="1" fill="#000"/><rect x="310.80" y="1422.30" width="5" height="4.50" fill="#000"/>
<g transform="translate(354.90,1265.90) scale(1)"><rect x="-1.00" y="-0.40" width="19.00" height="279.25" fill="url(#p-crossC)" stroke="#000" stroke-width="5.400" stroke-linejoin="round"/></g><rect x="357.40" y="1257.80" width="12.0" height="5.00" rx="1" fill="#000"/><rect x="360.90" y="1257.80" width="5" height="7.00" fill="#000"/>
<g transform="translate(384.80,1488.40) scale(1)"><rect x="-1.00" y="-0.40" width="19.00" height="56.75" fill="url(#p-crossC)" stroke="#000" stroke-width="5.400" stroke-linejoin="round"/></g><rect x="387.30" y="1480.60" width="12.0" height="5.00" rx="1" fill="#000"/><rect x="390.80" y="1480.60" width="5" height="6.70" fill="#000"/>
<g transform="translate(414.60,1495.50) scale(1)"><rect x="-1.00" y="-0.40" width="19.00" height="49.65" fill="url(#p-crossC)" stroke="#000" stroke-width="5.400" stroke-linejoin="round"/></g><rect x="417.10" y="1490.20" width="12.0" height="4.20" rx="1" fill="#000"/><rect x="420.60" y="1490.20" width="5" height="4.20" fill="#000"/>
<g transform="translate(463.42,1427.86) scale(1.05)"><rect x="-0.40" y="-0.44" width="18.10" height="111.76" fill="url(#p-brick)" stroke="#000" stroke-width="5.143" stroke-linejoin="round"/></g><rect x="466.50" y="1421.20" width="12.0" height="5.00" rx="1" fill="#000"/><rect x="470.00" y="1421.20" width="5" height="5.50" fill="#000"/>
<g transform="translate(493.32,1477.86) scale(1.05)"><rect x="-0.40" y="-0.44" width="18.10" height="64.14" fill="url(#p-brick)" stroke="#000" stroke-width="5.143" stroke-linejoin="round"/></g><rect x="496.40" y="1470.60" width="12.0" height="5.00" rx="1" fill="#000"/><rect x="499.90" y="1470.60" width="5" height="6.10" fill="#000"/>
<g transform="translate(523.12,1432.56) scale(1.05)"><rect x="-0.40" y="-0.44" width="18.10" height="107.29" fill="url(#p-brick)" stroke="#000" stroke-width="5.143" stroke-linejoin="round"/></g><rect x="526.20" y="1426.80" width="12.0" height="4.60" rx="1" fill="#000"/><rect x="529.70" y="1426.80" width="5" height="4.60" fill="#000"/>
<g transform="translate(572.90,1431.80) scale(1)"><rect x="0.00" y="0.00" width="19.00" height="112.95" fill="url(#p-grid)" stroke="#000" stroke-width="5.400" stroke-linejoin="round"/></g>
<g transform="translate(602.80,1452.10) scale(1)"><rect x="0.00" y="0.00" width="19.00" height="92.65" fill="url(#p-grid)" stroke="#000" stroke-width="5.400" stroke-linejoin="round"/></g><rect x="606.30" y="1448.60" width="12.0" height="2.80" rx="1" fill="#000"/><rect x="609.80" y="1448.60" width="5" height="2.80" fill="#000"/>
<g transform="translate(632.60,1472.10) scale(1)"><rect x="0.00" y="0.00" width="19.00" height="72.65" fill="url(#p-grid)" stroke="#000" stroke-width="5.400" stroke-linejoin="round"/></g><rect x="636.10" y="1467.40" width="12.0" height="4.00" rx="1" fill="#000"/><rect x="639.60" y="1467.40" width="5" height="4.00" fill="#000"/>
</g>
<rect x="117.17" y="1175.23" width="3.85" height="367.45" fill="#000"/>
<rect x="117.17" y="1538.83" width="550.82" height="3.85" fill="#000"/>
<rect x="109.00" y="1538.83" width="10.1" height="3.85" fill="#000"/>
<rect x="109.00" y="1447.92" width="10.1" height="3.85" fill="#000"/>
<rect x="109.00" y="1357.03" width="10.1" height="3.85" fill="#000"/>
<rect x="109.00" y="1266.12" width="10.1" height="3.85" fill="#000"/>
<rect x="109.00" y="1175.23" width="10.1" height="3.85" fill="#000"/>
<text x="136.40" y="1556.80" font-size="15" font-family='"Liberation Sans", Arial, Helvetica, sans-serif' font-weight="normal" text-anchor="start" stroke="#000" stroke-width="0.36" stroke-linejoin="round" >c</text>
<text x="150.60" y="1556.80" font-size="15" font-family='"Liberation Sans", Arial, Helvetica, sans-serif' font-weight="normal" text-anchor="start" textLength="38.80" lengthAdjust="spacingAndGlyphs" stroke="#000" stroke-width="0.36" stroke-linejoin="round" >U-332</text>
<text x="193.20" y="1556.80" font-size="15" font-family='"Liberation Sans", Arial, Helvetica, sans-serif' font-weight="normal" text-anchor="start" textLength="29.80" lengthAdjust="spacingAndGlyphs" stroke="#000" stroke-width="0.36" stroke-linejoin="round" >BGD</text>
<text x="246.30" y="1558.70" font-size="15" font-family='"Liberation Sans", Arial, Helvetica, sans-serif' font-weight="normal" text-anchor="start" stroke="#000" stroke-width="0.36" stroke-linejoin="round" >c</text>
<text x="260.90" y="1558.70" font-size="15" font-family='"Liberation Sans", Arial, Helvetica, sans-serif' font-weight="normal" text-anchor="start" textLength="38.80" lengthAdjust="spacingAndGlyphs" stroke="#000" stroke-width="0.36" stroke-linejoin="round" >U-332</text>
<text x="302.80" y="1558.70" font-size="15" font-family='"Liberation Sans", Arial, Helvetica, sans-serif' font-weight="normal" text-anchor="start" textLength="29.80" lengthAdjust="spacingAndGlyphs" stroke="#000" stroke-width="0.36" stroke-linejoin="round" >BGD</text>
<text x="361.50" y="1556.80" font-size="15" font-family='"Liberation Sans", Arial, Helvetica, sans-serif' font-weight="normal" text-anchor="start" stroke="#000" stroke-width="0.36" stroke-linejoin="round" >c</text>
<text x="374.80" y="1556.80" font-size="15" font-family='"Liberation Sans", Arial, Helvetica, sans-serif' font-weight="normal" text-anchor="start" textLength="38.80" lengthAdjust="spacingAndGlyphs" stroke="#000" stroke-width="0.36" stroke-linejoin="round" >U-332</text>
<text x="417.00" y="1556.80" font-size="15" font-family='"Liberation Sans", Arial, Helvetica, sans-serif' font-weight="normal" text-anchor="start" textLength="29.80" lengthAdjust="spacingAndGlyphs" stroke="#000" stroke-width="0.36" stroke-linejoin="round" >BGD</text>
<text x="468.60" y="1558.70" font-size="15" font-family='"Liberation Sans", Arial, Helvetica, sans-serif' font-weight="normal" text-anchor="start" stroke="#000" stroke-width="0.36" stroke-linejoin="round" >c</text>
<text x="482.40" y="1558.70" font-size="15" font-family='"Liberation Sans", Arial, Helvetica, sans-serif' font-weight="normal" text-anchor="start" textLength="38.80" lengthAdjust="spacingAndGlyphs" stroke="#000" stroke-width="0.36" stroke-linejoin="round" >U-332</text>
<text x="524.60" y="1558.70" font-size="15" font-family='"Liberation Sans", Arial, Helvetica, sans-serif' font-weight="normal" text-anchor="start" textLength="29.80" lengthAdjust="spacingAndGlyphs" stroke="#000" stroke-width="0.36" stroke-linejoin="round" >BGD</text>
<text x="578.40" y="1555.70" font-size="15" font-family='"Liberation Sans", Arial, Helvetica, sans-serif' font-weight="normal" text-anchor="start" stroke="#000" stroke-width="0.36" stroke-linejoin="round" >c</text>
<text x="592.60" y="1555.70" font-size="15" font-family='"Liberation Sans", Arial, Helvetica, sans-serif' font-weight="normal" text-anchor="start" textLength="38.80" lengthAdjust="spacingAndGlyphs" stroke="#000" stroke-width="0.36" stroke-linejoin="round" >U-332</text>
<text x="634.30" y="1555.70" font-size="15" font-family='"Liberation Sans", Arial, Helvetica, sans-serif' font-weight="normal" text-anchor="start" textLength="29.80" lengthAdjust="spacingAndGlyphs" stroke="#000" stroke-width="0.36" stroke-linejoin="round" >BGD</text>
<text x="270.20" y="1605.10" font-size="33" font-family='"Liberation Sans", Arial, Helvetica, sans-serif' font-weight="normal" text-anchor="start" textLength="170.50" lengthAdjust="spacingAndGlyphs" stroke="#000" stroke-width="0.79" stroke-linejoin="round" >HL-60/5FU</text>
<text font-size="27.00" font-family='"Liberation Sans", Arial, Helvetica, sans-serif' text-anchor="middle" stroke="#000" stroke-width="0.97" stroke-linejoin="round" transform="translate(176.00,1481.80) rotate(90)" x="0" y="14.04">*</text>
<text font-size="27.00" font-family='"Liberation Sans", Arial, Helvetica, sans-serif' text-anchor="middle" stroke="#000" stroke-width="0.97" stroke-linejoin="round" transform="translate(176.00,1468.95) rotate(90)" x="0" y="14.04">*</text>
<text font-size="27.00" font-family='"Liberation Sans", Arial, Helvetica, sans-serif' text-anchor="middle" stroke="#000" stroke-width="0.97" stroke-linejoin="round" transform="translate(176.00,1456.10) rotate(90)" x="0" y="14.04">*</text>
<text font-size="27.00" font-family='"Liberation Sans", Arial, Helvetica, sans-serif' text-anchor="middle" stroke="#000" stroke-width="0.97" stroke-linejoin="round" transform="translate(204.40,1481.80) rotate(90)" x="0" y="14.04">*</text>
<text font-size="27.00" font-family='"Liberation Sans", Arial, Helvetica, sans-serif' text-anchor="middle" stroke="#000" stroke-width="0.97" stroke-linejoin="round" transform="translate(204.40,1468.95) rotate(90)" x="0" y="14.04">*</text>
<text font-size="27.00" font-family='"Liberation Sans", Arial, Helvetica, sans-serif' text-anchor="middle" stroke="#000" stroke-width="0.97" stroke-linejoin="round" transform="translate(204.40,1456.10) rotate(90)" x="0" y="14.04">*</text>
<text font-size="19.80" font-family='"Liberation Sans", Arial, Helvetica, sans-serif' text-anchor="middle" stroke="#000" stroke-width="0.59" stroke-linejoin="round" x="282.75" y="1446.70">*</text>
<text x="312.00" y="1417.70" font-size="19.5" font-family='"Liberation Sans", Arial, Helvetica, sans-serif' font-weight="normal" text-anchor="middle" stroke="#000" stroke-width="0.47" stroke-linejoin="round" >ns</text>
<text font-size="27.00" font-family='"Liberation Sans", Arial, Helvetica, sans-serif' text-anchor="middle" stroke="#000" stroke-width="0.97" stroke-linejoin="round" transform="translate(393.40,1469.10) rotate(90)" x="0" y="14.04">*</text>
<text font-size="27.00" font-family='"Liberation Sans", Arial, Helvetica, sans-serif' text-anchor="middle" stroke="#000" stroke-width="0.97" stroke-linejoin="round" transform="translate(393.40,1456.20) rotate(90)" x="0" y="14.04">*</text>
<text font-size="27.00" font-family='"Liberation Sans", Arial, Helvetica, sans-serif' text-anchor="middle" stroke="#000" stroke-width="0.97" stroke-linejoin="round" transform="translate(393.40,1443.30) rotate(90)" x="0" y="14.04">*</text>
<text font-size="27.00" font-family='"Liberation Sans", Arial, Helvetica, sans-serif' text-anchor="middle" stroke="#000" stroke-width="0.97" stroke-linejoin="round" transform="translate(421.60,1480.60) rotate(90)" x="0" y="14.04">*</text>
<text font-size="27.00" font-family='"Liberation Sans", Arial, Helvetica, sans-serif' text-anchor="middle" stroke="#000" stroke-width="0.97" stroke-linejoin="round" transform="translate(421.60,1467.75) rotate(90)" x="0" y="14.04">*</text>
<text font-size="27.00" font-family='"Liberation Sans", Arial, Helvetica, sans-serif' text-anchor="middle" stroke="#000" stroke-width="0.97" stroke-linejoin="round" transform="translate(421.60,1454.90) rotate(90)" x="0" y="14.04">*</text>
<text font-size="27.00" font-family='"Liberation Sans", Arial, Helvetica, sans-serif' text-anchor="middle" stroke="#000" stroke-width="0.97" stroke-linejoin="round" transform="translate(502.50,1460.10) rotate(90)" x="0" y="14.04">*</text>
<text font-size="27.00" font-family='"Liberation Sans", Arial, Helvetica, sans-serif' text-anchor="middle" stroke="#000" stroke-width="0.97" stroke-linejoin="round" transform="translate(502.50,1447.15) rotate(90)" x="0" y="14.04">*</text>
<text font-size="27.00" font-family='"Liberation Sans", Arial, Helvetica, sans-serif' text-anchor="middle" stroke="#000" stroke-width="0.97" stroke-linejoin="round" transform="translate(502.50,1434.20) rotate(90)" x="0" y="14.04">*</text>
<text x="529.05" y="1420.90" font-size="19.5" font-family='"Liberation Sans", Arial, Helvetica, sans-serif' font-weight="normal" text-anchor="middle" stroke="#000" stroke-width="0.47" stroke-linejoin="round" >ns</text>
<text font-size="27.00" font-family='"Liberation Sans", Arial, Helvetica, sans-serif' text-anchor="middle" stroke="#000" stroke-width="0.97" stroke-linejoin="round" transform="translate(616.50,1439.90) rotate(90)" x="0" y="14.04">*</text>
<text font-size="27.00" font-family='"Liberation Sans", Arial, Helvetica, sans-serif' text-anchor="middle" stroke="#000" stroke-width="0.97" stroke-linejoin="round" transform="translate(640.60,1457.10) rotate(90)" x="0" y="14.04">*</text>
<text font-size="27.00" font-family='"Liberation Sans", Arial, Helvetica, sans-serif' text-anchor="middle" stroke="#000" stroke-width="0.97" stroke-linejoin="round" transform="translate(640.60,1444.20) rotate(90)" x="0" y="14.04">*</text>
<text font-size="27.00" font-family='"Liberation Sans", Arial, Helvetica, sans-serif' text-anchor="middle" stroke="#000" stroke-width="0.97" stroke-linejoin="round" transform="translate(640.60,1431.30) rotate(90)" x="0" y="14.04">*</text>
<g transform="translate(167.30,1089.70) scale(1.07)"><rect x="-0.00" y="-0.00" width="36.45" height="18.50" fill="url(#p-check)" stroke="#000" stroke-width="5.047" stroke-linejoin="round"/></g>
<rect x="164.10" y="1086.50" width="3.20" height="3.20" fill="#fff"/>
<text x="228.40" y="1109.50" font-size="29" font-family='"Liberation Sans", Arial, Helvetica, sans-serif' font-weight="normal" text-anchor="start" textLength="98.50" lengthAdjust="spacingAndGlyphs" stroke="#000" stroke-width="0.70" stroke-linejoin="round" >NF-kB1</text>
<g transform="translate(167.30,1133.50) scale(1.0)"><rect x="-0.00" y="-0.00" width="39.00" height="19.60" fill="url(#p-dots)" stroke="#000" stroke-width="5.400" stroke-linejoin="round"/></g>
<rect x="164.10" y="1130.30" width="3.20" height="3.20" fill="#fff"/>
<text x="228.40" y="1152.70" font-size="29" font-family='"Liberation Sans", Arial, Helvetica, sans-serif' font-weight="normal" text-anchor="start" textLength="98.50" lengthAdjust="spacingAndGlyphs" stroke="#000" stroke-width="0.70" stroke-linejoin="round" >NF-kB2</text>
<g transform="translate(365.17,1087.63) scale(1.03)"><rect x="0.90" y="-1.00" width="38.06" height="19.22" fill="url(#p-crossA)" stroke="#000" stroke-width="5.243" stroke-linejoin="round"/></g>
<rect x="362.90" y="1083.40" width="3.20" height="3.20" fill="#fff"/>
<text x="426.60" y="1106.50" font-size="29" font-family='"Liberation Sans", Arial, Helvetica, sans-serif' font-weight="normal" text-anchor="start" textLength="69.50" lengthAdjust="spacingAndGlyphs" stroke="#000" stroke-width="0.70" stroke-linejoin="round" >c-Rel</text>
<g transform="translate(366.12,1128.86) scale(1.05)"><rect x="-0.40" y="-0.44" width="37.05" height="18.95" fill="url(#p-brick)" stroke="#000" stroke-width="5.143" stroke-linejoin="round"/></g>
<rect x="362.50" y="1125.20" width="3.20" height="3.20" fill="#fff"/>
<text x="427.20" y="1148.10" font-size="29" font-family='"Liberation Sans", Arial, Helvetica, sans-serif' font-weight="normal" text-anchor="start" textLength="62.00" lengthAdjust="spacingAndGlyphs" stroke="#000" stroke-width="0.70" stroke-linejoin="round" >RelA</text>
<g transform="translate(592.60,1096.00) scale(1.0)"><rect x="-0.00" y="-0.00" width="38.90" height="19.80" fill="url(#p-grid)" stroke="#000" stroke-width="5.400" stroke-linejoin="round"/></g>
<rect x="589.40" y="1092.80" width="3.20" height="3.20" fill="#fff"/>
<text x="654.50" y="1115.60" font-size="28.5" font-family='"Liberation Sans", Arial, Helvetica, sans-serif' font-weight="normal" text-anchor="start" textLength="60.00" lengthAdjust="spacingAndGlyphs" stroke="#000" stroke-width="0.68" stroke-linejoin="round" >RelB</text>
</svg>
</body>
</html>
